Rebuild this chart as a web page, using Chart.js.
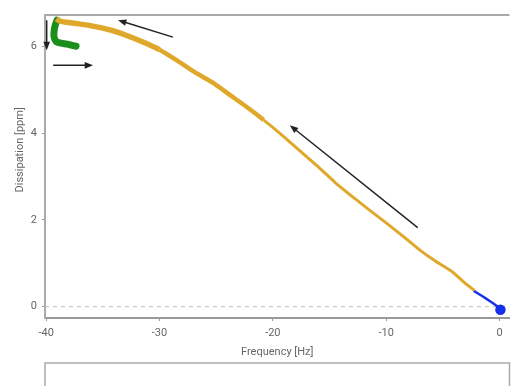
<!DOCTYPE html>
<html>
<head>
<meta charset="utf-8">
<script src="https://cdn.jsdelivr.net/npm/chart.js@4/dist/chart.umd.min.js"></script>
<style>
  html, body { margin: 0; background: #fff; overflow: hidden; }
  #wrap { position: relative; width: 516px; height: 386px; }
</style>
</head>
<body>
<div id="wrap"><canvas id="qcmChart"></canvas></div>
<script>
// Frequency [Hz] / Dissipation [ppm]
const yellowX = [-39.1, -38.8, -37.5, -36.0, -35.2, -34.0, -32.6, -31.3, -30.0, -28.5, -27.0, -25.3,
    -23.8, -22.3, -20.8, -19.4, -17.0, -15.9, -14.5, -12.95, -11.5, -10.0, -8.5, -7.05, -5.6, -4.15, -3.2, -2.2];
const yellowY = [6.63, 6.58, 6.53, 6.47, 6.43, 6.35, 6.22, 6.08, 5.92, 5.68, 5.42, 5.16,
    4.88, 4.60, 4.30, 4.00, 3.45, 3.20, 2.86, 2.53, 2.23, 1.93, 1.62, 1.31, 1.04, 0.80, 0.58, 0.37];
const greenX = [-39.03, -39.2, -39.3, -39.3, -39.12, -38.68, -38.15, -37.7, -37.36];
const greenY = [6.60, 6.48, 6.34, 6.21, 6.11, 6.07, 6.05, 6.02, 6.00];
const blueX = [-2.3, -1.5, -0.8, -0.3, 0.0, 0.08];
const blueY = [0.37, 0.24, 0.12, 0.03, -0.03, -0.07];

const xTicks = [-40, -30, -20, -10, 0];
const yTicks = [0, 2, 4, 6];

// arrows: [fromX, fromY, toX, toY] in data units
const arrows = [
    [-39.95, 6.60, -39.95, 5.91],
    [-39.38, 5.56, -35.86, 5.56],
    [-28.81, 6.21, -33.66, 6.60],
    [-7.22, 1.82, -18.5, 4.18]
];

function toPoints(xs, ys) {
    return xs.map((x, i) => ({ x: x, y: ys[i] }));
}

const framePlugin = {
    id: 'frame',
    beforeDatasetsDraw(chart) {
        const { ctx, chartArea, scales } = chart;
        const y0 = scales.y.getPixelForValue(0);
        ctx.save();
        ctx.strokeStyle = '#bbbbbb';
        ctx.lineWidth = 1;
        ctx.setLineDash([4, 4]);
        ctx.beginPath();
        ctx.moveTo(chartArea.left, y0);
        ctx.lineTo(chartArea.right, y0);
        ctx.stroke();
        ctx.setLineDash([]);
        // top edge of the plot box
        ctx.strokeStyle = '#aaaaaa';
        ctx.lineWidth = 2;
        ctx.beginPath();
        ctx.moveTo(chartArea.left, chartArea.top);
        ctx.lineTo(chartArea.right, chartArea.top);
        ctx.stroke();
        // empty legend box
        ctx.lineWidth = 1.5;
        ctx.strokeRect(chartArea.left, 363, chartArea.right - chartArea.left, 30);
        // y axis title
        ctx.translate(20, chartArea.top + chartArea.height * 0.445);
        ctx.rotate(-Math.PI / 2);
        ctx.fillStyle = '#666';
        ctx.font = '11px Roboto';
        ctx.textAlign = 'center';
        ctx.textBaseline = 'middle';
        ctx.fillText('Dissipation [ppm]', 0, 0);
        ctx.restore();
    },
    afterDatasetsDraw(chart) {
        const { ctx, scales } = chart;
        ctx.save();
        ctx.strokeStyle = '#222';
        ctx.fillStyle = '#222';
        ctx.lineWidth = 1.5;
        arrows.forEach(a => {
            const x1 = scales.x.getPixelForValue(a[0]);
            const y1 = scales.y.getPixelForValue(a[1]);
            const x2 = scales.x.getPixelForValue(a[2]);
            const y2 = scales.y.getPixelForValue(a[3]);
            const ang = Math.atan2(y2 - y1, x2 - x1);
            const head = 9;
            ctx.beginPath();
            ctx.moveTo(x1, y1);
            ctx.lineTo(x2 - Math.cos(ang) * head * 0.8, y2 - Math.sin(ang) * head * 0.8);
            ctx.stroke();
            ctx.beginPath();
            ctx.moveTo(x2, y2);
            ctx.lineTo(x2 - head * Math.cos(ang - 0.38), y2 - head * Math.sin(ang - 0.38));
            ctx.lineTo(x2 - head * Math.cos(ang + 0.38), y2 - head * Math.sin(ang + 0.38));
            ctx.closePath();
            ctx.fill();
        });
        ctx.restore();
    }
};

document.addEventListener('DOMContentLoaded', function() {
    const ctx = document.getElementById('qcmChart').getContext('2d');
    new Chart(ctx, {
        type: 'line',
        data: {
            datasets: [
                {
                    data: toPoints(yellowX, yellowY),
                    borderColor: '#dfa82a',
                    borderWidth: 3,
                    segment: {
                        // trace is wider near the start
                        borderWidth: c => c.p0.parsed.x < -31 ? 5.5 : (c.p0.parsed.x < -22 ? 4.5 : 3)
                    },
                    pointRadius: 0,
                    tension: 0.25
                },
                {
                    data: toPoints(greenX, greenY),
                    borderColor: '#1b8f1b',
                    borderWidth: 7,
                    borderCapStyle: 'round',
                    borderJoinStyle: 'round',
                    pointRadius: 0,
                    tension: 0.4
                },
                {
                    data: toPoints(blueX, blueY),
                    borderColor: '#1530e8',
                    backgroundColor: '#1530e8',
                    borderWidth: 2.5,
                    pointRadius: blueX.map((v, i) => i === blueX.length - 1 ? 4 : 0),
                    tension: 0.2
                }
            ]
        },
        options: {
            responsive: true,
            maintainAspectRatio: false,
            animation: false,
            layout: { padding: { top: 15, right: 1, bottom: 24, left: 0 } },
            plugins: {
                legend: { display: false },
                tooltip: { enabled: false }
            },
            scales: {
                x: {
                    type: 'linear',
                    min: -40.1,
                    max: 0.88,
                    afterBuildTicks: axis => { axis.ticks = xTicks.map(v => ({ value: v })); },
                    afterFit: axis => { axis.height = 44; },
                    grid: { drawOnChartArea: false, tickLength: 3, tickColor: '#999' },
                    border: { color: '#999', width: 2 },
                    ticks: { color: '#666', padding: 6, font: { family: 'Roboto', size: 11 } },
                    title: {
                        display: true,
                        text: 'Frequency [Hz]',
                        color: '#666',
                        padding: { top: 0, bottom: 3 },
                        font: { family: 'Roboto', size: 11 }
                    }
                },
                y: {
                    type: 'linear',
                    min: -0.26,
                    max: 6.72,
                    afterBuildTicks: axis => { axis.ticks = yTicks.map(v => ({ value: v })); },
                    afterFit: axis => { axis.width = 45; },
                    grid: { drawOnChartArea: false, tickLength: 3, tickColor: '#999' },
                    border: { color: '#aaa', width: 2 },
                    ticks: { color: '#666', padding: 5, font: { family: 'Roboto', size: 11 } },
                    title: { display: false }
                }
            }
        },
        plugins: [framePlugin]
    });
});
</script>
</body>
</html>
